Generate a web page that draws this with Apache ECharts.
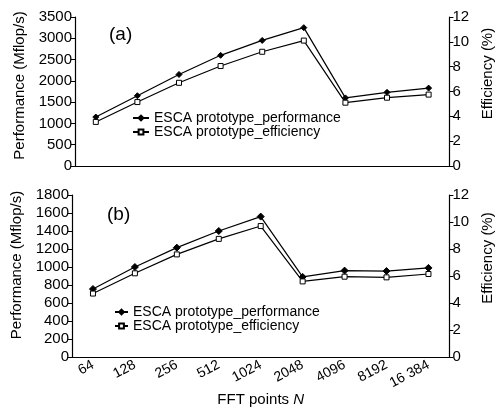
<!DOCTYPE html>
<html>
<head>
<meta charset="utf-8">
<script src="https://cdn.jsdelivr.net/npm/echarts@6/dist/echarts.min.js"></script>
<style>
  html, body { margin: 0; padding: 0; background: #fff; }
  #chart { width: 503px; height: 412px; }
</style>
</head>
<body>
<div id="chart"></div>
<script>
// FFT sizes
const categories = ['64', '128', '256', '512', '1024', '2048', '4096', '8192', '16 384'];
// panel (a)
const perfA = [1150, 1650, 2150, 2600, 2950, 3250, 1600, 1730, 1830];
const effA = [3.55, 5.15, 6.7, 8.05, 9.2, 10.1, 5.1, 5.5, 5.75];
// panel (b)
const perfB = [755, 1000, 1215, 1400, 1560, 890, 960, 955, 990];
const effB = [4.7, 6.2, 7.6, 8.75, 9.7, 5.6, 5.95, 5.9, 6.15];

const PERF = 'ESCA prototype_performance';
const EFF = 'ESCA prototype_efficiency';
const FONT = 'Liberation Sans, Arial, sans-serif';

const chart = echarts.init(document.getElementById('chart'));

function xAx(gridIndex, showLabels) {
  return {
    type: 'category',
    gridIndex: gridIndex,
    data: categories,
    boundaryGap: true,
    axisLine: { lineStyle: { color: '#000', width: 1.2 } },
    axisTick: { inside: true, length: 4, lineStyle: { color: '#000' } },
    axisLabel: {
      show: showLabels,
      rotate: 28,
      margin: 7,
      color: '#000',
      fontSize: 14,
      fontFamily: FONT
    },
    name: showLabels ? '{a|FFT points }{b|N}' : '',
    nameLocation: 'middle',
    nameGap: 30,
    nameTextStyle: {
      rich: {
        a: { fontSize: 15, fontFamily: FONT, color: '#000' },
        b: { fontSize: 15, fontFamily: FONT, color: '#000', fontStyle: 'italic' }
      }
    }
  };
}

function yAx(gridIndex, pos, max, interval, name, gap, pad) {
  return {
    type: 'value',
    gridIndex: gridIndex,
    position: pos,
    min: 0,
    max: max,
    interval: interval,
    splitLine: { show: false },
    axisLine: { show: true, lineStyle: { color: '#000', width: 1.2 } },
    axisTick: { show: true, length: 4, lineStyle: { color: '#000' } },
    axisLabel: {
      color: '#000', fontSize: 15, fontFamily: FONT, margin: 3,
      formatter: (v) => String(v)
    },
    name: name,
    nameLocation: 'middle',
    nameGap: gap,
    nameTextStyle: { color: '#000', fontSize: 15, fontFamily: FONT, padding: pad }
  };
}

function ser(name, xi, yi, data, sym, size, fill) {
  return {
    name: name,
    type: 'line',
    xAxisIndex: xi,
    yAxisIndex: yi,
    data: data,
    symbol: sym,
    symbolSize: size,
    showAllSymbol: true,
    lineStyle: { color: '#000', width: 1.2 },
    itemStyle: { color: fill, borderColor: '#000', borderWidth: 1 },
    animation: false
  };
}

const legendText = { color: '#000', fontSize: 14, fontFamily: FONT };

const option = {
  animation: false,
  grid: [
    { left: 75, right: 46, top: 17, height: 149 },
    { left: 72, right: 49, top: 195, height: 162 }
  ],
  xAxis: [xAx(0, false), xAx(1, true)],
  yAxis: [
    yAx(0, 'left', 3500, 500, 'Performance (Mflop/s)', 48, [0, 0, 0, 12]),
    yAx(0, 'right', 12, 2, 'Efficiency (%)', 26, [0, 0, 0, 36]),
    yAx(1, 'left', 1800, 200, 'Performance (Mflop/s)', 46, [0, 0, 0, 22]),
    yAx(1, 'right', 12, 2, 'Efficiency (%)', 29, [0, 0, 0, 36])
  ],
  legend: [
    {
      left: 132, top: 111, orient: 'vertical', padding: 0,
      itemWidth: 16, itemHeight: 6, itemGap: 0,
      textStyle: Object.assign({ lineHeight: 14 }, legendText),
      data: [PERF, EFF]
    },
    {
      left: 114, top: 305, orient: 'vertical', padding: 0,
      itemWidth: 13, itemHeight: 6, itemGap: 0,
      textStyle: Object.assign({ lineHeight: 12 }, legendText),
      data: [PERF, EFF]
    }
  ],
  graphic: [
    { type: 'text', left: 109, top: 25, style: { text: '(a)', fontSize: 19, fontFamily: FONT, fill: '#000' } },
    { type: 'text', left: 107, top: 205, style: { text: '(b)', fontSize: 19, fontFamily: FONT, fill: '#000' } }
  ],
  series: [
    ser(PERF, 0, 0, perfA, 'diamond', 6, '#000'),
    ser(EFF, 0, 1, effA, 'rect', 5, '#fff'),
    ser(PERF, 1, 2, perfB, 'diamond', 7, '#000'),
    ser(EFF, 1, 3, effB, 'rect', 5, '#fff')
  ]
};

chart.setOption(option);
</script>
</body>
</html>
